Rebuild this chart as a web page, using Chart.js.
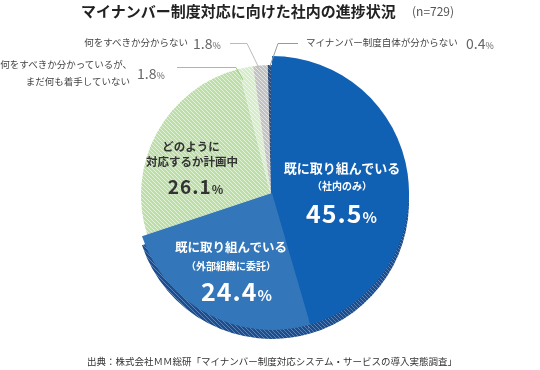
<!DOCTYPE html>
<html><head><meta charset="utf-8">
<script src="https://cdn.jsdelivr.net/npm/chart.js@4.4.0/dist/chart.umd.min.js"></script>
<style>
body{margin:0;background:#fff;width:540px;height:370px;overflow:hidden;font-family:"Noto Sans CJK JP","Noto Sans",sans-serif;}
#wrap{position:relative;width:540px;height:370px;}
canvas{position:absolute;}
.t{position:absolute;white-space:nowrap;line-height:1;}
svg{position:absolute;left:0;top:0;}
</style></head><body><div id="wrap">
<canvas id="band"></canvas>
<canvas id="back"></canvas>
<canvas id="front"></canvas>
<svg width="540" height="370" id="lines"></svg>
</div>
<script>
const title = 'マイナンバー制度対応に向けた社内の進捗状況';
const sampleSize = 729;
const categories = ['既に取り組んでいる（社内のみ）','既に取り組んでいる（外部組織に委託）','どのように対応するか計画中','何をすべきか分かっているが、まだ何も着手していない','何をすべきか分からない','マイナンバー制度自体が分からない'];
const values = [45.5, 24.4, 26.1, 1.8, 1.8, 0.4];
const source = '出典：株式会社ＭＭ総研「マイナンバー制度対応システム・サービスの導入実態調査」';

function hatch(base, stripe, lw){
  const c=document.createElement('canvas'); c.width=c.height=4;
  const g=c.getContext('2d'); g.fillStyle=base; g.fillRect(0,0,4,4);
  g.strokeStyle=stripe; g.lineWidth=lw; g.beginPath();
  for(const o of [-4,0,4]){ g.moveTo(o,0); g.lineTo(o+4,4); }
  g.stroke();
  return g.createPattern(c,'repeat');
}
const blue1='#1060b4', blue2='#3377ba';
const none='rgba(0,0,0,0)';
const green=hatch('#bbdfa6','rgba(255,255,255,0.6)',1);
const lgreen=hatch('#d6edca','rgba(255,255,255,0.6)',1);
const gray=hatch('#c2c2c2','rgba(255,255,255,0.6)',1);
const navy=hatch('#2a4e80','rgba(255,255,255,0.3)',1);
const bandC=hatch('#1d4d8a','rgba(140,175,220,0.55)',1);

function pie(id, colors, radius, cx, cy){
  const size=300;
  const cv=document.getElementById(id);
  cv.width=size; cv.height=size;
  cv.style.left=(cx-size/2)+'px'; cv.style.top=(cy-size/2)+'px';
  return new Chart(cv,{type:'pie',
    data:{labels:categories,datasets:[{data:values,backgroundColor:colors,borderWidth:0}]},
    options:{responsive:false,animation:false,radius:radius,layout:{padding:0},events:[],
      plugins:{legend:{display:false},tooltip:{enabled:false}}}});
}
pie('band',[bandC,bandC,none,none,none,none],137,272,202);
pie('back',[blue1,blue2,green,lgreen,gray,navy],130,271,195);
pie('front',[blue1,blue2,none,none,none,none],137,272,193);

const wrap=document.getElementById('wrap');
function txt(html,x,y,style,align){
  const d=document.createElement('div'); d.className='t'; d.innerHTML=html;
  d.style.cssText+=style; d.style.left=x+'px'; d.style.top=y+'px';
  const tx = align==='right'?'-100%':(align==='left'?'0':'-50%');
  d.style.transform='translate('+tx+',-50%)';
  wrap.appendChild(d);
}
function pct(v,big,small){
  return v.toFixed(1)+'<span style="font-size:'+small+'px">%</span>';
}
txt(title,81,10,'font-size:15px;font-weight:bold;color:#222;','left');
txt('(n='+sampleSize+')',412,11,'font-size:12px;color:#555;','left');

// outside labels
const oc='color:#444;font-size:9.5px;';
const nc='color:#666;font-size:14px;';
txt('何をすべきか分からない',188,43,oc,'right');
txt(pct(values[4],14,9),193,43,nc,'left');
txt('マイナンバー制度自体が分からない',306,43,oc,'left');
txt(pct(values[5],14,9),466,43,nc,'left');
txt('何をすべきか分かっているが、',132,65,oc,'right');
txt('まだ何も着手していない',130,82,oc,'right');
txt(pct(values[3],14,9),137,73,nc,'left');

// inside labels
const wc='color:#fff;font-weight:bold;';
txt('既に取り組んでいる',342,167,wc+'font-size:13px;');
txt('（社内のみ）',342,186,wc+'font-size:10px;');
txt(pct(values[0],25,15),342,212,wc+'font-size:25px;letter-spacing:1px;');
txt('既に取り組んでいる',231,247,wc+'font-size:12.5px;');
txt('（外部組織に委託）',231,266,wc+'font-size:10px;');
txt(pct(values[1],25,15),237,290,wc+'font-size:25px;letter-spacing:1px;');
const dc='color:#333;font-weight:bold;';
txt('どのように',191,147,dc+'font-size:11.5px;');
txt('対応するか計画中',192,162,dc+'font-size:11.5px;');
txt(pct(values[2],19,12),196,185,dc+'font-size:19px;letter-spacing:1px;');

txt(source,87,362,'font-size:9.5px;color:#333;','left');

// leader lines
const svg=document.getElementById('lines');
function pl(pts,col){
  const p=document.createElementNS('http://www.w3.org/2000/svg','polyline');
  p.setAttribute('points',pts); p.setAttribute('fill','none');
  p.setAttribute('stroke',col); p.setAttribute('stroke-width','1');
  svg.appendChild(p);
}
pl('230,43.5 247,43.5 259,68','#bbbbbb');
pl('298,43.5 278,43.5 270,66','#999999');
pl('177,67.5 236,67.5 243,80','#98c97c');
</script></body></html>
